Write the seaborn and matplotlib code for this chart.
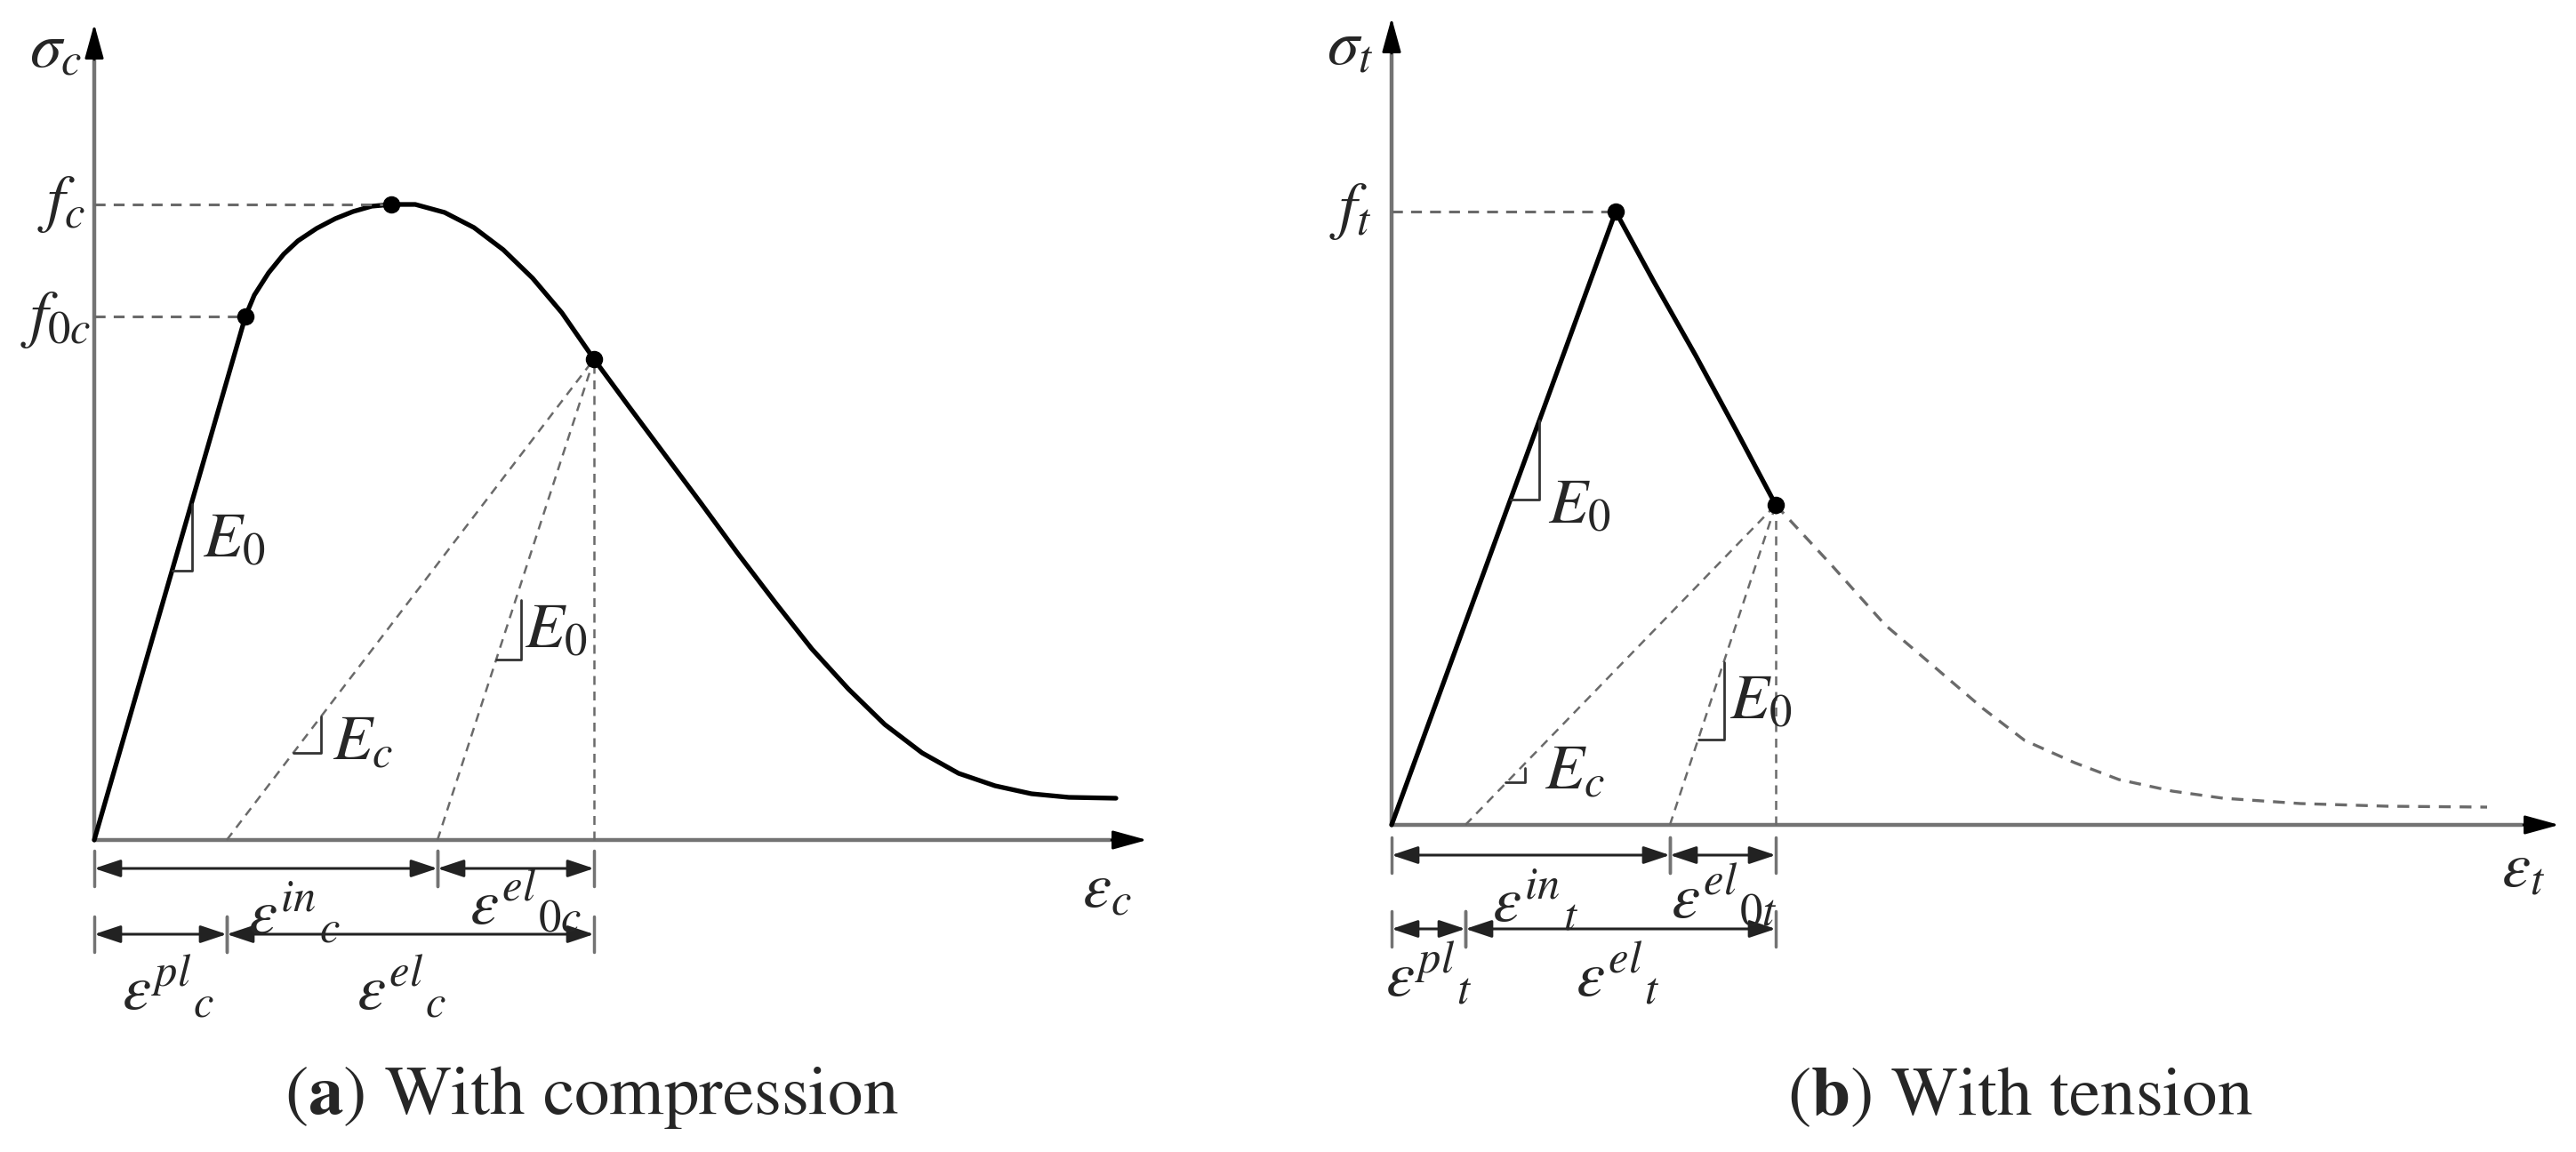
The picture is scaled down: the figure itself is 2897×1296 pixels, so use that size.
import pandas as pd
import seaborn as sns
import matplotlib.pyplot as plt

# Values (arbitrary strain / stress units)

# (a) compression curve
comp_strain = [0, 1.70, 1.80, 1.96, 2.13, 2.29, 2.50, 2.71, 2.91, 3.12, 3.34, 3.61, 3.94, 4.27, 4.60,
               4.93, 5.26, 5.62, 6.01, 6.42, 6.83, 7.24, 7.66, 8.07, 8.48, 8.89, 9.31, 9.72,
               10.13, 10.54, 10.96, 11.49]
comp_stress = [0, 5.89, 6.13, 6.38, 6.59, 6.74, 6.88, 6.99, 7.07, 7.13, 7.15, 7.15, 7.06, 6.89, 6.64,
               6.32, 5.93, 5.41, 4.88, 4.33, 3.78, 3.22, 2.67, 2.15, 1.70, 1.30, 0.98, 0.75,
               0.61, 0.52, 0.48, 0.47]
comp_f0c = (1.70, 5.89)
comp_peak = (3.34, 7.15)
comp_unload = (5.62, 5.41)
comp_pl_zero = 1.49   # where the E_c unloading line meets the strain axis
comp_in_zero = 3.86   # where the E_0 unloading line meets the strain axis

# (b) tension curve
ten_strain = [0, 2.52, 2.95, 3.42, 3.88, 4.32]
ten_stress = [0, 6.90, 6.11, 5.28, 4.43, 3.60]
ten_tail_strain = [4.32, 4.95, 5.55, 6.02, 6.65, 7.12, 7.68, 8.18, 8.78, 9.35, 10.22, 11.20, 12.32]
ten_tail_stress = [3.60, 2.92, 2.25, 1.85, 1.31, 0.95, 0.70, 0.51, 0.38, 0.30, 0.24, 0.21, 0.20]
ten_peak = (2.52, 6.90)
ten_unload = (4.32, 3.60)
ten_pl_zero = 0.83
ten_in_zero = 3.13

sns.set_style("white")
plt.rcParams["mathtext.fontset"] = "stix"
plt.rcParams["font.family"] = ["STIXGeneral", "DejaVu Sans"]

fig = plt.figure(figsize=(28.97, 12.96), dpi=100)
ax1 = fig.add_axes([0, 0, 1400 / 2897, 1])
ax2 = fig.add_axes([1400 / 2897, 0, 1497 / 2897, 1])
ax1.set_xlim(-1.06, 12.94)
ax1.set_ylim(-3.51, 9.45)
ax2.set_xlim(-1.65, 13.32)
ax2.set_ylim(-3.68, 9.28)

AXIS_C = "#737373"
DASH_C = "#6a6a6a"
DASH = (0, (4, 3))
FS = 52


def draw_axes(ax, xtip, ytop):
    ax.plot([0, xtip - 0.3], [0, 0], color=AXIS_C, lw=3.2)
    ax.plot([0, 0], [0, ytop - 0.3], color=AXIS_C, lw=3.2)
    head = dict(arrowstyle="-|>,head_length=0.8,head_width=0.22", color="black",
                lw=2, mutation_scale=30, shrinkA=0, shrinkB=0)
    ax.annotate("", xy=(xtip, 0), xytext=(xtip - 0.4, 0), arrowprops=head)
    ax.annotate("", xy=(0, ytop), xytext=(0, ytop - 0.4), arrowprops=head)
    ax.axis("off")


def dim_line(ax, x0, x1, y):
    ax.annotate("", xy=(x1, y), xytext=(x0, y),
                arrowprops=dict(arrowstyle="<|-|>,head_length=0.6,head_width=0.2", color="#222222",
                                lw=2.2, mutation_scale=30, shrinkA=0, shrinkB=0))
    for x in (x0, x1):
        ax.plot([x, x], [y - 0.2, y + 0.2], color=AXIS_C, lw=2.5)


def slope_mark(ax, x0, x1, y0, y1):
    ax.plot([x0, x1, x1], [y0, y0, y1], color="#333333", lw=2)


# ---------- (a) compression ----------
draw_axes(ax1, 11.84, 9.18)
df_c = pd.DataFrame({"strain": comp_strain, "stress": comp_stress})
sns.lineplot(data=df_c, x="strain", y="stress", ax=ax1, color="black", lw=3.8,
             sort=False, estimator=None, legend=False)

ax1.plot([0, comp_peak[0]], [comp_peak[1]] * 2, color=DASH_C, lw=2.2, ls=DASH)
ax1.plot([0, comp_f0c[0]], [comp_f0c[1]] * 2, color=DASH_C, lw=2.2, ls=DASH)
ax1.plot([comp_pl_zero, comp_unload[0]], [0, comp_unload[1]], color=DASH_C, lw=1.8, ls=DASH)
ax1.plot([comp_in_zero, comp_unload[0]], [0, comp_unload[1]], color=DASH_C, lw=1.8, ls=DASH)
ax1.plot([comp_unload[0]] * 2, [0, comp_unload[1]], color=DASH_C, lw=1.8, ls=DASH)
pts = [comp_f0c, comp_peak, comp_unload]
ax1.scatter([p[0] for p in pts], [p[1] for p in pts], s=170, color="black", zorder=5)

slope_mark(ax1, 0.875, 1.10, 3.03, 3.78)
slope_mark(ax1, 2.24, 2.55, 0.98, 1.39)
slope_mark(ax1, 4.52, 4.80, 2.03, 2.70)
ax1.text(1.22, 3.36, r"$E_0$", fontsize=FS, va="center")
ax1.text(2.68, 1.08, r"$E_c$", fontsize=FS, va="center")
ax1.text(4.84, 2.34, r"$E_0$", fontsize=FS, va="center")

ax1.text(-0.43, 8.87, r"$\sigma_c$", fontsize=FS, ha="center", va="center")
ax1.text(-0.10, 7.15, r"$f_c$", fontsize=FS, ha="right", va="center")
ax1.text(-0.04, 5.85, r"$f_{0c}$", fontsize=FS, ha="right", va="center")
ax1.text(11.39, -0.58, r"$\varepsilon_c$", fontsize=FS, ha="center", va="center")

dim_line(ax1, 0, comp_in_zero, -0.32)
dim_line(ax1, comp_in_zero, comp_unload[0], -0.32)
dim_line(ax1, 0, comp_pl_zero, -1.06)
dim_line(ax1, comp_pl_zero, comp_unload[0], -1.06)
ax1.text(2.25, -0.85, r"$\varepsilon^{in}{}_{c}$", fontsize=FS, ha="center", va="center")
ax1.text(4.85, -0.72, r"$\varepsilon^{el}{}_{0c}$", fontsize=FS, ha="center", va="center")
ax1.text(0.83, -1.68, r"$\varepsilon^{pl}{}_{c}$", fontsize=FS, ha="center", va="center")
ax1.text(3.45, -1.68, r"$\varepsilon^{el}{}_{c}$", fontsize=FS, ha="center", va="center")

# ---------- (b) tension ----------
draw_axes(ax2, 13.13, 9.08)
df_t = pd.DataFrame({"strain": ten_strain, "stress": ten_stress})
df_tail = pd.DataFrame({"strain": ten_tail_strain, "stress": ten_tail_stress})
sns.lineplot(data=df_t, x="strain", y="stress", ax=ax2, color="black", lw=3.8,
             sort=False, estimator=None, legend=False)
sns.lineplot(data=df_tail, x="strain", y="stress", ax=ax2, color=DASH_C, lw=2.4,
             linestyle=DASH, sort=False, estimator=None, legend=False)

ax2.plot([0, ten_peak[0]], [ten_peak[1]] * 2, color=DASH_C, lw=2.2, ls=DASH)
ax2.plot([ten_pl_zero, ten_unload[0]], [0, ten_unload[1]], color=DASH_C, lw=1.8, ls=DASH)
ax2.plot([ten_in_zero, ten_unload[0]], [0, ten_unload[1]], color=DASH_C, lw=1.8, ls=DASH)
ax2.plot([ten_unload[0]] * 2, [0, ten_unload[1]], color=DASH_C, lw=1.8, ls=DASH)
ax2.scatter([ten_peak[0], ten_unload[0]], [ten_peak[1], ten_unload[1]], s=170, color="black", zorder=5)

slope_mark(ax2, 1.34, 1.66, 3.66, 4.55)
slope_mark(ax2, 1.28, 1.50, 0.48, 0.64)
slope_mark(ax2, 3.45, 3.74, 0.96, 1.83)
ax2.text(1.76, 3.57, r"$E_0$", fontsize=FS, va="center")
ax2.text(1.72, 0.58, r"$E_c$", fontsize=FS, va="center")
ax2.text(3.80, 1.37, r"$E_0$", fontsize=FS, va="center")

ax2.text(-0.47, 8.73, r"$\sigma_t$", fontsize=FS, ha="center", va="center")
ax2.text(-0.22, 6.90, r"$f_t$", fontsize=FS, ha="right", va="center")
ax2.text(12.73, -0.52, r"$\varepsilon_t$", fontsize=FS, ha="center", va="center")

dim_line(ax2, 0, ten_in_zero, -0.34)
dim_line(ax2, ten_in_zero, ten_unload[0], -0.34)
dim_line(ax2, 0, ten_pl_zero, -1.17)
dim_line(ax2, ten_pl_zero, ten_unload[0], -1.17)
ax2.text(1.62, -0.88, r"$\varepsilon^{in}{}_{t}$", fontsize=FS, ha="center", va="center")
ax2.text(3.74, -0.82, r"$\varepsilon^{el}{}_{0t}$", fontsize=FS, ha="center", va="center")
ax2.text(0.42, -1.70, r"$\varepsilon^{pl}{}_{t}$", fontsize=FS, ha="center", va="center")
ax2.text(2.54, -1.70, r"$\varepsilon^{el}{}_{t}$", fontsize=FS, ha="center", va="center")

# captions
fig.text(665 / 2897, 1 - 1235 / 1296, r"($\mathbf{a}$) With compression", fontsize=57,
         ha="center", va="center")
fig.text(2272 / 2897, 1 - 1235 / 1296, r"($\mathbf{b}$) With tension", fontsize=57,
         ha="center", va="center")

fig.savefig("out.png", dpi=100, facecolor="white")
